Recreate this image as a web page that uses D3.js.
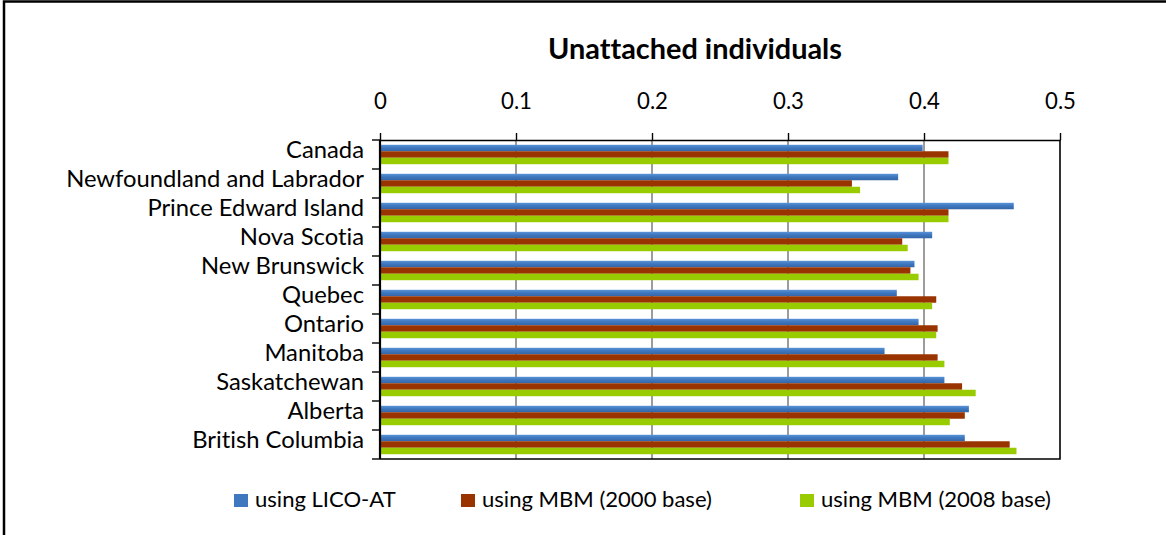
<!DOCTYPE html>
<html>
<head>
<meta charset="utf-8">
<script src="https://cdn.jsdelivr.net/npm/d3@7"></script>
<style>
  html, body { margin: 0; padding: 0; background: #fff; }
  svg { display: block; }
  text {
    font-family: Lato, "Open Sans", "DejaVu Sans", sans-serif;
    fill: #000;
    font-variant-ligatures: none;
    font-feature-settings: "liga" 0, "dlig" 0;
  }
</style>
</head>
<body>
<svg id="chart" width="1166" height="535"></svg>
<script>
// Provinces (plus the national total), top to bottom
const categories = [
  "Canada", "Newfoundland and Labrador", "Prince Edward Island", "Nova Scotia",
  "New Brunswick", "Quebec", "Ontario", "Manitoba", "Saskatchewan", "Alberta",
  "British Columbia"
];

// Series values for unattached individuals
const licoAT  = [0.399, 0.381, 0.466, 0.406, 0.393, 0.380, 0.396, 0.371, 0.415, 0.433, 0.430];
const mbm2000 = [0.418, 0.347, 0.418, 0.384, 0.390, 0.409, 0.410, 0.410, 0.428, 0.430, 0.463];
const mbm2008 = [0.418, 0.353, 0.418, 0.388, 0.396, 0.406, 0.409, 0.415, 0.438, 0.419, 0.468];

const seriesNames = ["using LICO-AT", "using MBM (2000 base)", "using MBM (2008 base)"];
const seriesColors = ["url(#blueGrad)", "#993300", "#99cc00"];
const legendSwatch = ["#3f78be", "#993300", "#99cc00"];

const xTicks = [0, 0.1, 0.2, 0.3, 0.4, 0.5];
const xTickLabels = ["0", "0.1", "0.2", "0.3", "0.4", "0.5"];

const chartTitle = "Unattached individuals";

const seriesValues = [licoAT, mbm2000, mbm2008];

const svg = d3.select("#chart");

// Gradient used for the first series' bars
const defs = svg.append("defs");
const grad = defs.append("linearGradient")
  .attr("id", "blueGrad").attr("x1", 0).attr("y1", 0).attr("x2", 0).attr("y2", 1);
grad.append("stop").attr("offset", "0%").attr("stop-color", "#5a93d8");
grad.append("stop").attr("offset", "45%").attr("stop-color", "#3f78be");
grad.append("stop").attr("offset", "100%").attr("stop-color", "#3365a8");

// Outer frame
svg.append("rect")
  .attr("x", 4).attr("y", 1.5).attr("width", 1300).attr("height", 700)
  .attr("fill", "none").attr("stroke", "#000").attr("stroke-width", 2.5);

const plot = { left: 380, right: 1060, top: 140, bottom: 459 };

const x = d3.scaleLinear().domain([0, 0.5]).range([plot.left, plot.right]);
const y = d3.scaleBand().domain(categories).range([plot.top, plot.bottom])
  .paddingInner(0.33).paddingOuter(0.165);
const ySub = d3.scaleBand().domain(d3.range(seriesNames.length)).range([0, y.bandwidth()]);

// Fit a font size so that the widest string in a selection has the given width
function fitFont(sel, targetWidth, start) {
  sel.style("font-size", start + "px");
  let w = 0;
  sel.each(function () { w = Math.max(w, this.getComputedTextLength()); });
  if (w > 0) sel.style("font-size", (start * targetWidth / w).toFixed(2) + "px");
}

// Title
const title = svg.append("text")
  .attr("x", 695).attr("y", 59)
  .attr("text-anchor", "middle")
  .style("font-weight", "bold")
  .text(chartTitle);
fitFont(title, 294, 24);

// Vertical gridlines
svg.append("g")
  .selectAll("line")
  .data(xTicks.slice(1, -1))
  .join("line")
  .attr("x1", d => x(d)).attr("x2", d => x(d))
  .attr("y1", plot.top).attr("y2", plot.bottom)
  .attr("stroke", "#5a5a5a").attr("stroke-width", 1.2);

// Bars
const groups = svg.append("g")
  .selectAll("g")
  .data(categories)
  .join("g")
  .attr("transform", d => `translate(0,${y(d)})`);

groups.selectAll("rect")
  .data((c, i) => seriesValues.map((vals, s) => ({ s, v: vals[i] })))
  .join("rect")
  .attr("x", x(0))
  .attr("y", d => ySub(d.s))
  .attr("width", d => x(d.v) - x(0))
  .attr("height", ySub.bandwidth())
  .attr("fill", d => seriesColors[d.s]);

// Top value axis
const xAxis = d3.axisTop(x)
  .tickValues(xTicks)
  .tickFormat((d, i) => xTickLabels[i])
  .tickSize(7)
  .tickSizeOuter(0);

const gx = svg.append("g")
  .attr("transform", `translate(0,${plot.top})`)
  .call(xAxis);
gx.select(".domain").attr("stroke", "#000").attr("stroke-width", 1.6);
gx.selectAll(".tick line").attr("stroke", "#000").attr("stroke-width", 1.4);
const tickText = gx.selectAll(".tick text")
  .attr("y", -31).attr("dy", 0)
  .style("fill", "#000");
fitFont(tickText, 31, 20);

// Right and bottom edges of the plot area
svg.append("path")
  .attr("d", `M${plot.right},${plot.top}V${plot.bottom}H${plot.left}`)
  .attr("fill", "none").attr("stroke", "#000").attr("stroke-width", 1.6);

// Category axis on the left with ticks at band boundaries
const boundaries = categories.map(c => y(c) - y.step() * y.paddingInner() / 2)
  .concat([plot.bottom]);
boundaries[0] = plot.top;
svg.append("g")
  .selectAll("line")
  .data(boundaries)
  .join("line")
  .attr("x1", plot.left - 8).attr("x2", plot.left)
  .attr("y1", d => d).attr("y2", d => d)
  .attr("stroke", "#000").attr("stroke-width", 1.4);
svg.append("line")
  .attr("x1", plot.left).attr("x2", plot.left)
  .attr("y1", plot.top).attr("y2", plot.bottom)
  .attr("stroke", "#000").attr("stroke-width", 2.2);

const catLabels = svg.append("g")
  .selectAll("text")
  .data(categories)
  .join("text")
  .attr("x", 364)
  .attr("y", d => y(d) + y.bandwidth() / 2 + 3)
  .attr("text-anchor", "end")
  .text(d => d);
fitFont(catLabels, 298, 20);

// Legend
const legendX = [234, 461, 800];
const legend = svg.append("g")
  .selectAll("g")
  .data(seriesNames)
  .join("g")
  .attr("transform", (d, i) => `translate(${legendX[i]},494)`);
legend.append("rect")
  .attr("width", 14).attr("height", 13)
  .attr("fill", (d, i) => legendSwatch[i]);
const legendText = legend.append("text")
  .attr("x", 21).attr("y", 13)
  .text(d => d);
fitFont(legendText, 230, 20);
</script>
</body>
</html>
